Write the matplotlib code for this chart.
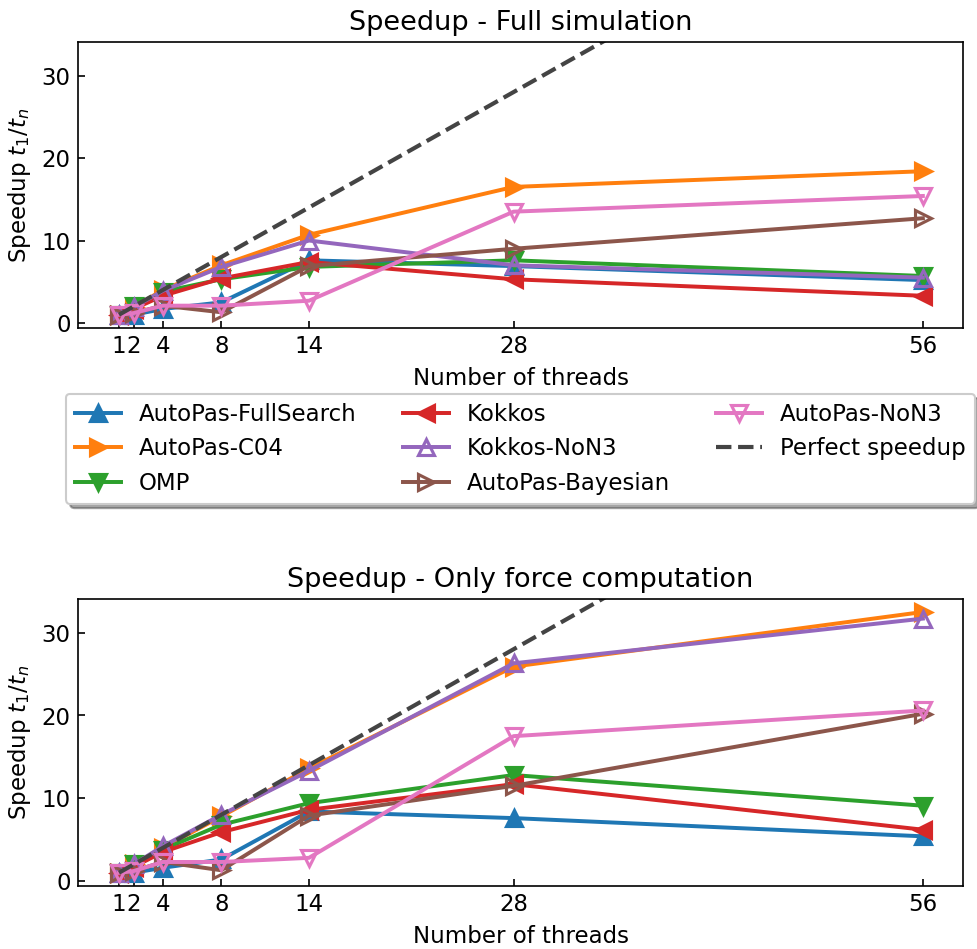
import matplotlib.pyplot as plt

OUTPUT_FILE = "out.png"

THREADS = [1, 2, 4, 8, 14, 28, 56]

# speedup t1/tn, full simulation
FULL_FULLSEARCH = [1.0, 1.0, 1.7, 2.5, 7.6, 6.9, 5.2]
FULL_C04 = [1.0, 1.9, 4.0, 7.0, 10.7, 16.5, 18.4]
FULL_OMP = [1.0, 2.0, 3.8, 5.3, 6.8, 7.6, 5.7]
FULL_KOKKOS = [1.0, 1.7, 3.3, 5.4, 7.4, 5.3, 3.3]
FULL_KOKKOS_NON3 = [1.0, 1.9, 3.9, 6.8, 10.0, 7.0, 5.5]
FULL_BAYESIAN = [1.0, 1.2, 2.1, 1.3, 6.9, 9.0, 12.7]
FULL_NON3 = [1.0, 1.2, 2.1, 2.1, 2.7, 13.5, 15.4]

# speedup t1/tn, force computation only
FORCE_FULLSEARCH = [1.0, 1.0, 1.6, 2.6, 8.4, 7.6, 5.4]
FORCE_C04 = [1.0, 2.0, 4.0, 7.8, 13.6, 25.9, 32.5]
FORCE_OMP = [1.0, 2.1, 3.8, 6.8, 9.4, 12.8, 9.1]
FORCE_KOKKOS = [1.0, 1.7, 3.5, 5.9, 8.6, 11.7, 6.2]
FORCE_KOKKOS_NON3 = [1.0, 2.0, 4.2, 8.0, 13.3, 26.3, 31.7]
FORCE_BAYESIAN = [1.0, 1.2, 2.3, 1.3, 7.9, 11.5, 20.2]
FORCE_NON3 = [1.0, 1.2, 2.3, 2.3, 2.8, 17.5, 20.6]

LABELS = [
    "AutoPas-FullSearch",
    "AutoPas-C04",
    "OMP",
    "Kokkos",
    "Kokkos-NoN3",
    "AutoPas-Bayesian",
    "AutoPas-NoN3",
]

STYLES = [
    ("tab:blue", "^", True),
    ("tab:orange", ">", True),
    ("tab:green", "v", True),
    ("tab:red", "<", True),
    ("tab:purple", "^", False),
    ("tab:brown", ">", False),
    ("tab:pink", "v", False),
]


def plot_speedup(ax, series, title):
    for values, label, (color, marker, filled) in zip(series, LABELS, STYLES):
        ax.plot(
            THREADS,
            values,
            color=color,
            marker=marker,
            markersize=8,
            markeredgewidth=1.5,
            markerfacecolor=color if filled else "none",
            linewidth=1.9,
            label=label,
        )

    ax.plot(
        THREADS,
        THREADS,
        linestyle="--",
        color="#444444",
        linewidth=2,
        label="Perfect speedup",
    )

    ax.set_title(title, fontsize=13)
    ax.set_xlabel("Number of threads", fontsize=11)
    ax.set_ylabel("Speedup $t_1/t_n$", fontsize=11)
    ax.set_xticks(THREADS)
    ax.set_xticklabels(["1", "2", "4", "8", "14", "28", "56"])
    ax.set_yticks([0, 10, 20, 30])
    ax.set_xlim(-1.8, 58.75)
    ax.set_ylim(-0.6, 34.07)
    ax.tick_params(direction="in", labelsize=11)


def main():
    fig = plt.figure(figsize=(6.52, 6.327), dpi=150)
    ax_full = fig.add_axes([0.0798, 0.6544, 0.9049, 0.3013])
    ax_force = fig.add_axes([0.0798, 0.0664, 0.9049, 0.3024])

    plot_speedup(
        ax_full,
        [FULL_FULLSEARCH, FULL_C04, FULL_OMP, FULL_KOKKOS,
         FULL_KOKKOS_NON3, FULL_BAYESIAN, FULL_NON3],
        "Speedup - Full simulation",
    )
    plot_speedup(
        ax_force,
        [FORCE_FULLSEARCH, FORCE_C04, FORCE_OMP, FORCE_KOKKOS,
         FORCE_KOKKOS_NON3, FORCE_BAYESIAN, FORCE_NON3],
        "Speedup - Only force computation",
    )

    ax_full.legend(
        loc="upper center",
        bbox_to_anchor=(0.5, -0.19),
        ncol=3,
        fontsize=11,
        shadow=True,
        fancybox=True,
    )

    fig.savefig(OUTPUT_FILE, dpi=150)


if __name__ == "__main__":
    main()
